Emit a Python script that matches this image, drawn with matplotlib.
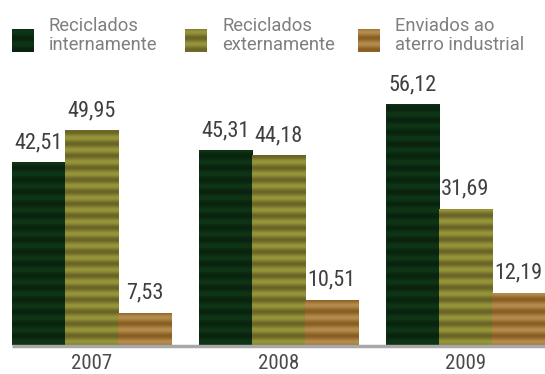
import numpy as np
import matplotlib
matplotlib.use("Agg")
import matplotlib.pyplot as plt
from matplotlib.colors import LinearSegmentedColormap

years = ["2007", "2008", "2009"]
series_names = ["Reciclados\ninternamente", "Reciclados\nexternamente", "Enviados ao\naterro industrial"]
internal = [42.51, 45.31, 56.12]
external = [49.95, 44.18, 31.69]
landfill = [7.53, 10.51, 12.19]
values = [internal, external, landfill]

# dark / light tones of the horizontal stripe texture of each series
tones = [("#0a230e", "#0e3616"), ("#6a6428", "#969639"), ("#8a5e22", "#b48c4e")]

plt.rcParams["font.family"] = ["Roboto", "DejaVu Sans"]
num_font = ["Roboto Condensed", "DejaVu Sans"]

W, H = 545, 374
fig = plt.figure(figsize=(W / 100, H / 100), dpi=100)
ax_left, ax_right, ax_bottom, ax_top = 12, 545, 345, 104
ax = fig.add_axes([ax_left / W, 1 - ax_bottom / H, (ax_right - ax_left) / W, (ax_bottom - ax_top) / H])

bw = 0.284
ymax = max(internal)
ax.set_ylim(0, ymax)
ax.set_xlim(-1.5 * bw, 2 + 1.5 * bw)
ax.axis("off")

px_per_unit = (ax_bottom - ax_top) / ymax
period = 12 / px_per_unit  # stripe period in data units

x = np.arange(len(years))
for s, (vals, (c0, c1)) in enumerate(zip(values, tones)):
    cmap = LinearSegmentedColormap.from_list(f"s{s}", [c0, c1])
    xs = x + (s - 1) * bw
    bars = ax.bar(xs, vals, width=bw, color="none", edgecolor="none")
    for b, v in zip(bars, vals):
        yy = np.linspace(0, v, 400)
        stripe = 0.5 + 0.5 * np.sin(2 * np.pi * yy / period)
        img = ax.imshow(stripe[:, None], extent=(b.get_x(), b.get_x() + bw, 0, v),
                        origin="lower", aspect="auto", cmap=cmap, vmin=0, vmax=1,
                        interpolation="bilinear")
        img.set_clip_path(b)
        ax.text(b.get_x() + bw / 2, v + 9 / px_per_unit, f"{v:.2f}".replace(".", ","),
                ha="center", va="bottom", fontsize=16, color="#3f3f3f", family=num_font)

# baseline
ax.plot([-1.5 * bw, 2 + 1.5 * bw], [-0.5 / px_per_unit] * 2, color="#a8a8a8", lw=2.5,
        solid_capstyle="butt", clip_on=False)

for xi, yr in zip(x, years):
    ax.text(xi, -9 / px_per_unit, yr, ha="center", va="top", fontsize=15,
            color="#4a4a4a", family=num_font)

# legend
sq_x = [12, 185, 358]
for s, (name, (c0, c1)) in enumerate(zip(series_names, tones)):
    cmap = LinearSegmentedColormap.from_list(f"l{s}", [c0, c1])
    lax = fig.add_axes([sq_x[s] / W, 1 - 52 / H, 22 / W, 23 / H])
    yy = np.linspace(0, 23, 100)
    lax.imshow((0.5 + 0.5 * np.sin(2 * np.pi * yy / 12))[:, None], aspect="auto",
               cmap=cmap, vmin=0, vmax=1, interpolation="bilinear")
    lax.axis("off")
    fig.text((sq_x[s] + 37) / W, 1 - 54 / H, name, ha="left", va="bottom",
             fontsize=13.2, color="#7f7f7f", linespacing=1.05)

fig.savefig("out.png", dpi=100)
